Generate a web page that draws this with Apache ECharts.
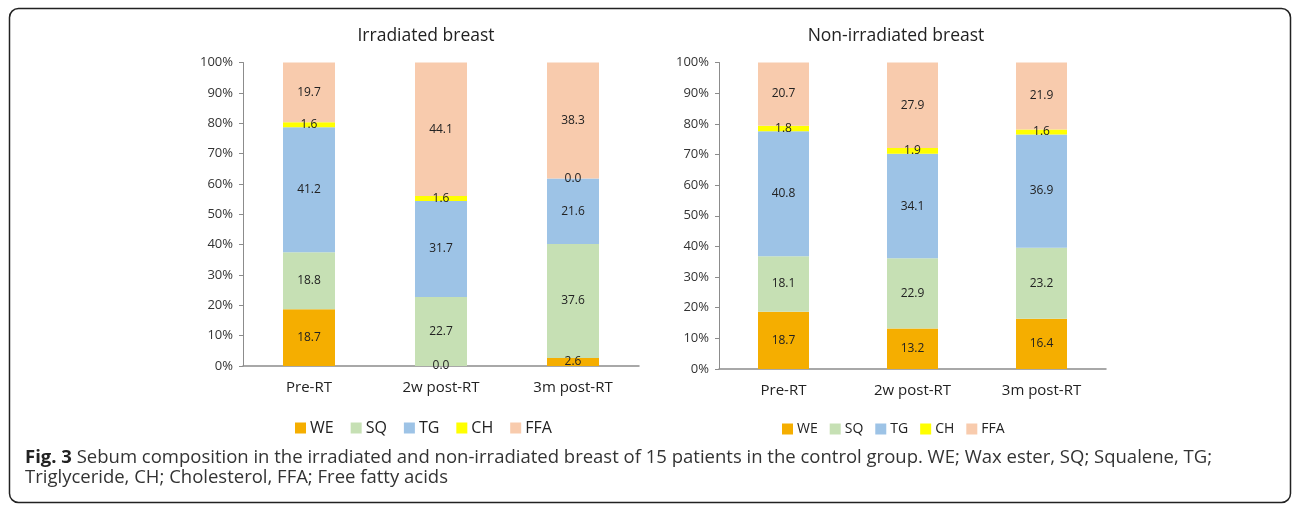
<!DOCTYPE html>
<html>
<head>
<meta charset="utf-8">
<script src="https://cdn.jsdelivr.net/npm/echarts@6/dist/echarts.min.js"></script>
<style>
  html, body { margin: 0; padding: 0; background: #fff; }
  #chart { width: 1292px; height: 506px; }
</style>
</head>
<body>
<div id="chart"></div>
<script>
// timepoints on the x axis
const categories = ['Pre-RT', '2w post-RT', '3m post-RT']
const lipids = ['WE', 'SQ', 'TG', 'CH', 'FFA']
const yTicks = [0, 10, 20, 30, 40, 50, 60, 70, 80, 90, 100]

// irradiated breast (% of sebum)
const irrWE = [18.7, 0.0, 2.6]
const irrSQ = [18.8, 22.7, 37.6]
const irrTG = [41.2, 31.7, 21.6]
const irrCH = [1.6, 1.6, 0.0]
const irrFFA = [19.7, 44.1, 38.3]

// non-irradiated breast
const nonWE = [18.7, 13.2, 16.4]
const nonSQ = [18.1, 22.9, 23.2]
const nonTG = [40.8, 34.1, 36.9]
const nonCH = [1.8, 1.9, 1.6]
const nonFFA = [20.7, 27.9, 21.9]

const COLORS = {
  WE: '#f5ae00',
  SQ: '#c6e0b4',
  TG: '#9dc3e6',
  CH: '#ffff00',
  FFA: '#f8cbad'
}

const FONT = '"Open Sans", sans-serif'
const AXIS_GRAY = '#8c8c8c'

function barSeries(name, data, idx, barWidth) {
  return {
    name: name,
    type: 'bar',
    stack: 'panel' + idx,
    xAxisIndex: idx,
    yAxisIndex: idx,
    barWidth: barWidth,
    data: data,
    itemStyle: { color: COLORS[name] },
    label: {
      show: true,
      position: 'inside',
      fontFamily: FONT,
      fontSize: 12,
      color: '#222',
      formatter: p => p.value.toFixed(1)
    }
  }
}

function yAxisFor(idx) {
  return {
    type: 'value',
    gridIndex: idx,
    min: yTicks[0],
    max: yTicks[yTicks.length - 1],
    interval: yTicks[1] - yTicks[0],
    axisLine: { show: true, lineStyle: { color: AXIS_GRAY, width: 1 } },
    axisTick: { show: true, length: 4, lineStyle: { color: AXIS_GRAY } },
    axisLabel: { formatter: '{value}%', fontFamily: FONT, fontSize: 13, color: '#333', margin: 10 },
    splitLine: { show: false }
  }
}

function xAxisFor(idx) {
  return {
    type: 'category',
    gridIndex: idx,
    data: categories,
    axisLine: { show: true, lineStyle: { color: AXIS_GRAY, width: 1.5 } },
    axisTick: { show: false },
    axisLabel: { fontFamily: FONT, fontSize: 15, color: '#222', margin: 14 }
  }
}

const irrSets = [irrWE, irrSQ, irrTG, irrCH, irrFFA]
const nonSets = [nonWE, nonSQ, nonTG, nonCH, nonFFA]

const chart = echarts.init(document.getElementById('chart'))

chart.setOption({
  animation: false,
  backgroundColor: '#fff',
  textStyle: { fontFamily: FONT },
  title: [
    {
      text: 'Irradiated breast',
      left: 421,
      top: 22,
      textAlign: 'center',
      textStyle: { fontFamily: FONT, fontSize: 17.5, fontWeight: 'normal', color: '#222' }
    },
    {
      text: 'Non-irradiated breast',
      left: 891,
      top: 22,
      textAlign: 'center',
      textStyle: { fontFamily: FONT, fontSize: 17.5, fontWeight: 'normal', color: '#222' }
    }
  ],
  legend: [
    {
      data: lipids,
      left: 290,
      top: 415,
      icon: 'rect',
      itemWidth: 11,
      itemHeight: 11,
      itemGap: 17,
      textStyle: { fontFamily: FONT, fontSize: 16, color: '#222', padding: [0, 0, 0, -1] }
    },
    {
      data: lipids,
      left: 777,
      top: 417,
      icon: 'rect',
      itemWidth: 11,
      itemHeight: 11,
      itemGap: 12,
      textStyle: { fontFamily: FONT, fontSize: 14, color: '#222', padding: [0, 0, 0, -1] }
    }
  ],
  grid: [
    { left: 243, top: 62.5, width: 396, height: 303.5 },
    { left: 719, top: 62.5, width: 387, height: 306.5 }
  ],
  xAxis: [xAxisFor(0), xAxisFor(1)],
  yAxis: [yAxisFor(0), yAxisFor(1)],
  series: [
    ...lipids.map((n, i) => barSeries(n, irrSets[i], 0, 52)),
    ...lipids.map((n, i) => barSeries(n, nonSets[i], 1, 51))
  ],
  graphic: [
    {
      type: 'rect',
      shape: { x: 9.5, y: 8.5, width: 1281, height: 494, r: 9 },
      style: { fill: 'none', stroke: '#222', lineWidth: 1.5 },
      silent: true
    },
    {
      type: 'text',
      left: 25,
      top: 448,
      style: {
        text: '{b|Fig. 3} Sebum composition in the irradiated and non-irradiated breast of 15 patients in the control group. WE; Wax ester, SQ; Squalene, TG;\nTriglyceride, CH; Cholesterol, FFA; Free fatty acids',
        fontFamily: FONT,
        fontSize: 18.5,
        lineHeight: 20,
        fill: '#333',
        rich: {
          b: { fontFamily: FONT, fontSize: 18.5, fontWeight: 'bold', fill: '#222', lineHeight: 20 }
        }
      }
    }
  ]
})
</script>
</body>
</html>
